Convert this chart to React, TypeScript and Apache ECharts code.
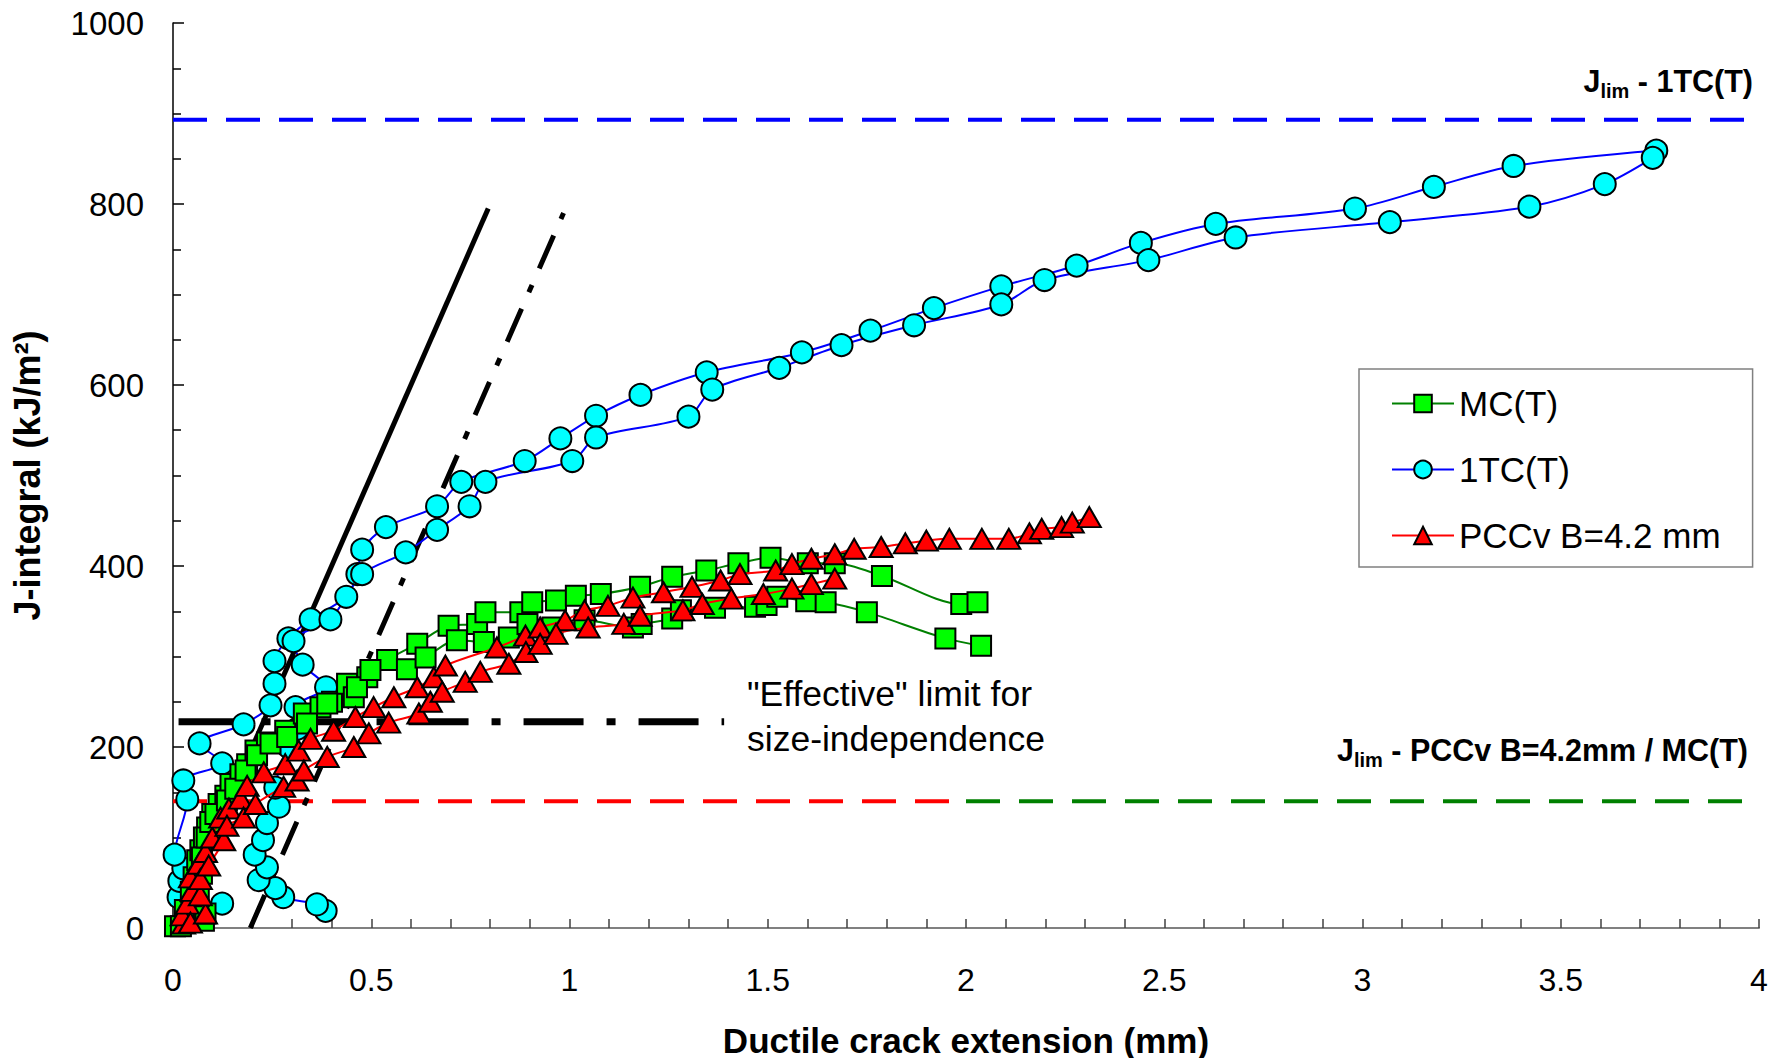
import { useEffect, useRef } from "react";
import * as echarts from "echarts";

// Ductile crack extension Δa (mm) vs J-integral (kJ/m²), one array per specimen.
const mcSpecimenA: [number, number][] = [
  [0.005, 2], [0.03, 20], [0.045, 40], [0.052, 56], [0.061, 75], [0.069, 86], [0.078, 100],
  [0.086, 111], [0.099, 126], [0.115, 137], [0.132, 146], [0.145, 159], [0.17, 170], [0.187, 181],
  [0.208, 196], [0.237, 205], [0.283, 218], [0.33, 237], [0.372, 244], [0.401, 250], [0.439, 270],
  [0.49, 277], [0.54, 296], [0.616, 314], [0.695, 334], [0.767, 336], [0.788, 349], [0.876, 349],
  [0.906, 360], [0.966, 362], [1.016, 367], [1.079, 369], [1.178, 377], [1.259, 388], [1.345, 395],
  [1.426, 403], [1.507, 409], [1.601, 403], [1.669, 403], [1.788, 389], [1.988, 358], [2.029, 360],
];

const mcSpecimenB: [number, number][] = [
  [0.02, 2], [0.078, 8], [0.082, 16], [0.065, 35], [0.073, 60], [0.073, 78], [0.085, 100],
  [0.094, 117], [0.107, 126], [0.136, 141], [0.157, 154], [0.183, 174], [0.212, 191], [0.246, 204],
  [0.288, 211], [0.338, 226], [0.389, 248], [0.456, 255], [0.464, 266], [0.498, 285], [0.59, 286],
  [0.637, 299], [0.716, 318], [0.784, 316], [0.847, 321], [0.894, 336], [0.957, 332], [1.038, 340],
  [1.16, 332], [1.182, 336], [1.259, 342], [1.281, 351], [1.367, 354], [1.468, 355], [1.497, 357],
  [1.524, 366], [1.597, 361], [1.646, 360], [1.75, 349], [1.948, 320], [2.038, 312],
];

const tcSpecimenA: [number, number][] = [
  [0.124, 27], [0.014, 34], [0.016, 52], [0.026, 66], [0.004, 81], [0.036, 142], [0.026, 163],
  [0.124, 182], [0.067, 204], [0.178, 225], [0.246, 246], [0.256, 270], [0.256, 295], [0.291, 320],
  [0.347, 341], [0.437, 366], [0.465, 391], [0.477, 418], [0.537, 443], [0.666, 466], [0.727, 493],
  [0.887, 516], [0.977, 541], [1.067, 566], [1.179, 589], [1.346, 614], [1.586, 636], [1.759, 660],
  [1.919, 685], [2.089, 709], [2.279, 732], [2.441, 757], [2.63, 778], [2.981, 795], [3.18, 819],
  [3.381, 842], [3.741, 859],
];

const tcSpecimenB: [number, number][] = [
  [0.385, 19], [0.363, 26], [0.278, 34], [0.258, 44], [0.216, 53], [0.237, 67], [0.206, 81],
  [0.227, 97], [0.237, 116], [0.267, 134], [0.258, 155], [0.291, 200], [0.313, 220], [0.309, 244],
  [0.386, 266], [0.327, 291], [0.304, 317], [0.397, 341], [0.477, 391], [0.587, 415], [0.666, 440],
  [0.748, 466], [0.788, 493], [1.007, 516], [1.067, 542], [1.3, 565], [1.36, 595], [1.529, 619],
  [1.686, 644], [1.869, 666], [2.089, 689], [2.198, 716], [2.46, 738], [2.68, 763], [3.069, 780],
  [3.421, 797], [3.611, 822], [3.732, 851],
];

const pccSpecimenA: [number, number][] = [
  [0.027, 5], [0.023, 14], [0.036, 27], [0.048, 41], [0.044, 56], [0.065, 71], [0.082, 84],
  [0.099, 100], [0.12, 122], [0.141, 132], [0.17, 143], [0.187, 157], [0.229, 172], [0.283, 181],
  [0.317, 196], [0.347, 209], [0.405, 218], [0.46, 233], [0.506, 244], [0.557, 255], [0.616, 266],
  [0.658, 277], [0.687, 290], [0.817, 310], [0.889, 323], [0.926, 332], [0.989, 340], [1.038, 351],
  [1.097, 356], [1.16, 365], [1.237, 371], [1.309, 377], [1.381, 384], [1.43, 391], [1.52, 395],
  [1.561, 402], [1.61, 408], [1.669, 413], [1.718, 419], [1.786, 421], [1.847, 425], [1.9, 428],
  [1.958, 430], [2.04, 430], [2.108, 430], [2.16, 436], [2.191, 441], [2.241, 443], [2.268, 448],
  [2.311, 454],
];

const pccSpecimenB: [number, number][] = [
  [0.044, 6], [0.082, 16], [0.069, 36], [0.069, 54], [0.09, 69], [0.128, 97], [0.136, 113],
  [0.178, 122], [0.208, 137], [0.279, 156], [0.313, 163], [0.33, 174], [0.389, 189], [0.456, 200],
  [0.494, 215], [0.544, 227], [0.62, 237], [0.649, 250], [0.679, 261], [0.737, 272], [0.775, 283],
  [0.847, 292], [0.89, 305], [0.926, 314], [0.966, 325], [1.047, 332], [1.137, 336], [1.178, 345],
  [1.286, 351], [1.335, 358], [1.408, 364], [1.489, 369], [1.561, 375], [1.61, 380], [1.669, 386],
];

// Limits and construction lines
const jLim1TC = 893;
const jLimSmall = 140;
const jLimSmallSplit = 2; // red (PCCv) part left of this Δa, green (MC) part right of it
const effectiveLimit = 228;
const effectiveLimitSpan: [number, number] = [0.014, 1.39];
const bluntingLine: [number, number][] = [[0, 0], [0.795, 795]];
const offsetLine: [number, number][] = [[0.195, 0], [0.985, 790]];

const xRange = { min: 0, max: 4, interval: 0.5 };
const yRange = { min: 0, max: 1000, interval: 200 };

const legendNames = ["MC(T)", "1TC(T)", "PCCv B=4.2 mm"];

const FONT = "Arial, 'Liberation Sans', Helvetica, sans-serif";

function specimen(
  name: string,
  data: [number, number][],
  fill: string,
  line: string,
  symbol: string,
  size: number | number[],
  z: number
) {
  return {
    type: "line",
    name,
    data,
    smooth: 0.3,
    symbol,
    symbolSize: size,
    showSymbol: true,
    itemStyle: { color: fill, borderColor: "#000", borderWidth: 2 },
    lineStyle: { color: line, width: 2 },
    z,
    silent: true,
  };
}

function refLine(data: [number, number][], color: string, width: number, type: any) {
  return {
    type: "line",
    name: "",
    data,
    symbol: "none",
    lineStyle: { color, width, type, cap: "butt" },
    z: 1,
    silent: true,
  };
}

export default function App() {
  const ref = useRef<HTMLDivElement>(null);

  useEffect(() => {
    if (!ref.current) return;
    const chart = echarts.init(ref.current, undefined, { renderer: "svg" });

    const richLabel = (rest: string) => ({
      text: `{b|J}{s|lim}{b|${rest}}`,
      rich: {
        b: { fontSize: 30.5, fontWeight: "bold", fontFamily: FONT, fill: "#000", lineHeight: 40, verticalAlign: "middle" },
        s: { fontSize: 20, fontWeight: "bold", fontFamily: FONT, fill: "#000", lineHeight: 40, verticalAlign: "bottom" },
      },
    });

    chart.setOption({
      animation: false,
      backgroundColor: "#ffffff",
      textStyle: { fontFamily: FONT },
      grid: {
        left: 173,
        right: 21,
        top: 23,
        bottom: 130,
        containLabel: false,
        outerBoundsMode: "none",
      },
      legend: {
        data: legendNames,
        orient: "vertical",
        left: 1359,
        top: 369,
        padding: [17, 32, 14, 32],
        itemGap: 31,
        itemWidth: 62,
        itemHeight: 22,
        borderColor: "#808080",
        borderWidth: 1.5,
        backgroundColor: "#ffffff",
        selectedMode: false,
        textStyle: { fontSize: 35, color: "#000", fontFamily: FONT },
      },
      xAxis: {
        type: "value",
        ...xRange,
        name: "Ductile crack extension (mm)",
        nameLocation: "middle",
        nameGap: 95,
        nameTextStyle: { fontSize: 35, lineHeight: 34, fontWeight: "bold", color: "#000", fontFamily: FONT },
        axisLine: { show: true, onZero: false, lineStyle: { color: "#808080", width: 2 } },
        axisTick: { show: true, inside: true, length: 9, lineStyle: { color: "#404040", width: 1.5 } },
        minorTick: { show: true, splitNumber: 5, length: 9, lineStyle: { color: "#404040", width: 1.5 } },
        splitLine: { show: false },
        axisLabel: { fontSize: 32, color: "#000", margin: 36, fontFamily: FONT, formatter: (v: number) => String(v) },
      },
      yAxis: {
        type: "value",
        ...yRange,
        name: "J-integral (kJ/m²)",
        nameLocation: "middle",
        nameGap: 128,
        nameRotate: 90,
        nameTextStyle: { fontSize: 36, fontWeight: "bold", color: "#000", fontFamily: FONT },
        axisLine: { show: true, onZero: false, lineStyle: { color: "#000", width: 1.5 } },
        axisTick: { show: true, inside: true, length: 11, lineStyle: { color: "#000", width: 1.5 } },
        minorTick: { show: true, splitNumber: 4, length: 8, lineStyle: { color: "#000", width: 1.5 } },
        splitLine: { show: false },
        axisLabel: { fontSize: 33, color: "#000", margin: 29, fontFamily: FONT, formatter: (v: number) => String(v) },
      },
      series: [
        refLine([[xRange.min, jLim1TC], [xRange.max, jLim1TC]], "#0000ff", 4, [34, 19]),
        refLine([[xRange.min, jLimSmall], [jLimSmallSplit, jLimSmall]], "#ff0000", 4, [34, 19]),
        refLine([[jLimSmallSplit, jLimSmall], [xRange.max, jLimSmall]], "#008000", 4, [34, 19]),
        refLine(
          [[effectiveLimitSpan[0], effectiveLimit], [effectiveLimitSpan[1], effectiveLimit]],
          "#000000",
          7,
          [60, 23, 9, 23]
        ),
        refLine(bluntingLine, "#000000", 5, "solid"),
        refLine(offsetLine, "#000000", 5, [36, 18, 8, 18]),
        specimen("1TC(T)", tcSpecimenA, "#00ffff", "#0000ff", "circle", 22, 2),
        specimen("1TC(T)", tcSpecimenB, "#00ffff", "#0000ff", "circle", 22, 2),
        specimen("MC(T)", mcSpecimenA, "#00ff00", "#008000", "rect", 20, 3),
        specimen("MC(T)", mcSpecimenB, "#00ff00", "#008000", "rect", 20, 3),
        specimen("PCCv B=4.2 mm", pccSpecimenA, "#ff0000", "#ff0000", "triangle", [23, 20], 4),
        specimen("PCCv B=4.2 mm", pccSpecimenB, "#ff0000", "#ff0000", "triangle", [23, 20], 4),
      ],
      graphic: [
        {
          type: "text",
          x: 1753,
          y: 81,
          style: { ...richLabel(" - 1TC(T)"), align: "right", verticalAlign: "middle" },
          z: 10,
        },
        {
          type: "text",
          x: 1748,
          y: 750,
          style: { ...richLabel(" - PCCv B=4.2mm / MC(T)"), align: "right", verticalAlign: "middle" },
          z: 10,
        },
        {
          type: "text",
          x: 747,
          y: 671,
          style: {
            text: '"Effective" limit for\nsize-independence',
            fontSize: 35.5,
            fontFamily: FONT,
            fill: "#000",
            lineHeight: 45,
            align: "left",
            verticalAlign: "top",
          },
          z: 10,
        },
      ],
    });

    return () => chart.dispose();
  }, []);

  return (
    <div
      ref={ref}
      style={{ position: "absolute", left: 0, top: 0, width: 1780, height: 1058, background: "#fff" }}
    />
  );
}
